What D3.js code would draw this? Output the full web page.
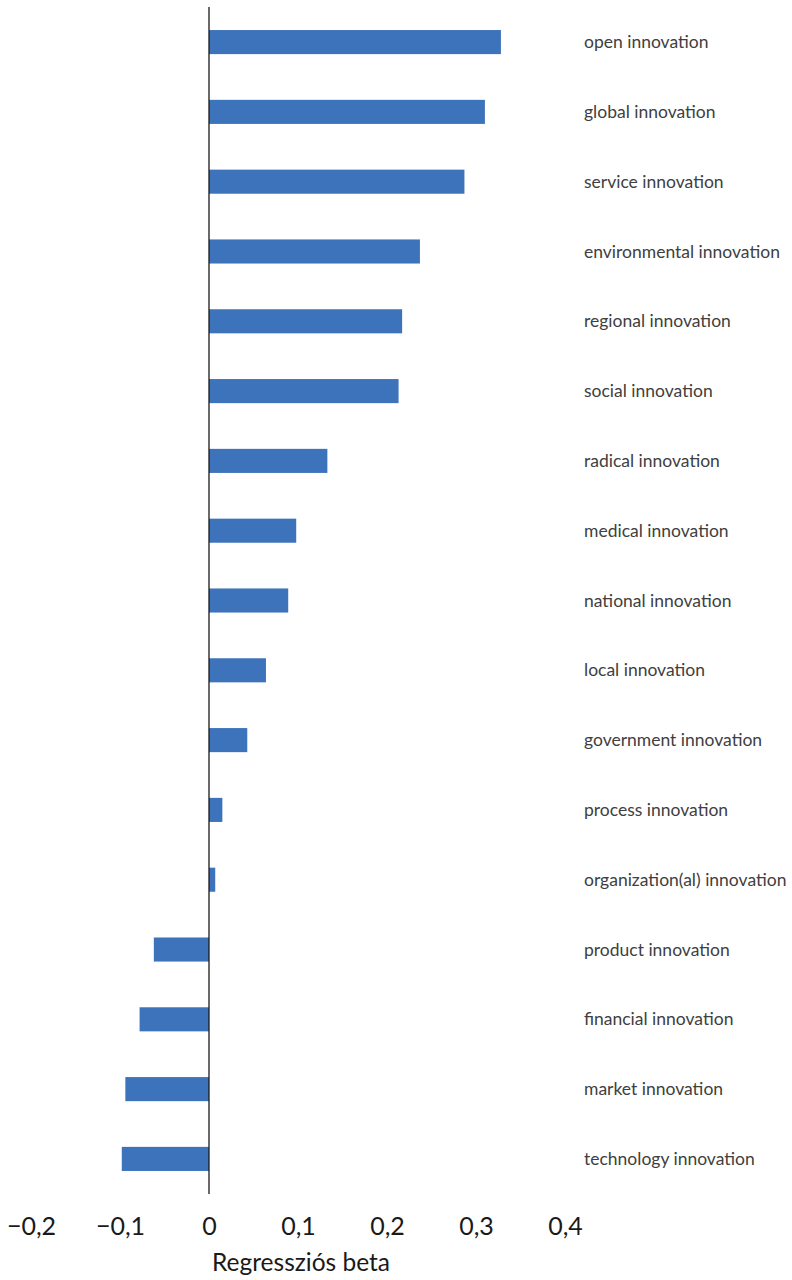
<!DOCTYPE html>
<html>
<head>
<meta charset="utf-8">
<script src="https://cdn.jsdelivr.net/npm/d3@7"></script>
<style>
  html, body { margin: 0; padding: 0; background: #fff; }
  svg { display: block; }
</style>
</head>
<body>
<svg id="chart" width="792" height="1280"></svg>
<script>
const categories = [
  "open innovation", "global innovation", "service innovation", "environmental innovation",
  "regional innovation", "social innovation", "radical innovation", "medical innovation",
  "national innovation", "local innovation", "government innovation", "process innovation",
  "organization(al) innovation", "product innovation", "financial innovation",
  "market innovation", "technology innovation"
];
const betas = [
  0.328, 0.310, 0.287, 0.237, 0.217, 0.213, 0.133, 0.098,
  0.089, 0.064, 0.043, 0.015, 0.007, -0.062, -0.078, -0.094, -0.098
];
const tickValues = [-0.2, -0.1, 0, 0.1, 0.2, 0.3, 0.4];
const tickLabels = ["\u22120,2", "\u22120,1", "0", "0,1", "0,2", "0,3", "0,4"];
const axisTitle = "Regressziós beta";

const svg = d3.select("#chart");
const font = "Lato, 'Open Sans', sans-serif";

const x = d3.scaleLinear().domain([-0.2, 0.4]).range([31, 565]);
const y = d3.scaleBand().domain(categories).range([7, 1194]).paddingInner(0.655).paddingOuter(0.33);

svg.append("g").selectAll("rect")
  .data(categories)
  .join("rect")
  .attr("x", (d, i) => x(Math.min(0, betas[i])))
  .attr("width", (d, i) => Math.abs(x(betas[i]) - x(0)))
  .attr("y", d => y(d))
  .attr("height", y.bandwidth())
  .attr("fill", "#3D73BA");

// vertical axis line at 0
svg.append("line")
  .attr("x1", x(0)).attr("x2", x(0))
  .attr("y1", 7).attr("y2", 1194)
  .attr("stroke", "#1a1a1a").attr("stroke-width", 1.3);

// category labels
svg.append("g").selectAll("text")
  .data(categories)
  .join("text")
  .attr("x", 584)
  .attr("y", d => y(d) + y.bandwidth() / 2)
  .attr("dy", "0.35em")
  .attr("font-family", font)
  .attr("font-size", 17.5)
  .attr("fill", "#404040")
  .text(d => d);

// x axis tick labels
const xAxis = d3.axisBottom(x)
  .tickValues(tickValues)
  .tickFormat((d, i) => tickLabels[i])
  .tickSize(0)
  .tickPadding(0);
const gx = svg.append("g").attr("transform", "translate(0,1217)").call(xAxis);
gx.select(".domain").remove();
gx.selectAll("text")
  .attr("font-family", font)
  .attr("font-size", 25)
  .attr("fill", "#1a1a1a")
  .attr("dy", "0.71em");

svg.append("text")
  .attr("x", 301)
  .attr("y", 1271)
  .attr("text-anchor", "middle")
  .attr("font-family", font)
  .attr("font-size", 24.5)
  .attr("fill", "#1a1a1a")
  .text(axisTitle);
</script>
</body>
</html>
